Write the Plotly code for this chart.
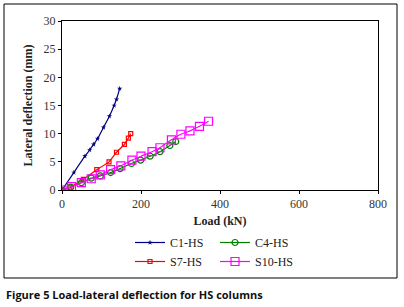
import plotly.graph_objects as go

c1_load = [0, 30, 58, 70, 80, 90, 105, 120, 132, 138, 146]
c1_defl = [0, 3.1, 6.0, 7.1, 8.1, 9.1, 11.1, 13.1, 15.0, 16.1, 18.0]

s7_load = [0, 20, 54, 88, 119, 138, 158, 168, 174]
s7_defl = [0, 0.5, 1.9, 3.6, 5.0, 6.7, 8.1, 9.2, 10.0]

c4_load = [0, 22, 49, 74, 97, 123, 147, 176, 199, 223, 248, 273, 288]
c4_defl = [0, 0.5, 1.3, 2.1, 2.5, 3.1, 3.8, 4.7, 5.3, 6.0, 6.8, 7.9, 8.6]

s10_load = [0, 24, 49, 74, 97, 123, 149, 177, 200, 228, 248, 277, 301, 324, 348, 371]
s10_defl = [0, 0.6, 1.3, 2.0, 2.7, 3.6, 4.3, 5.3, 6.0, 6.8, 7.5, 8.9, 9.9, 10.5, 11.3, 12.2]

x_ticks = [0, 200, 400, 600, 800]
y_ticks = [0, 5, 10, 15, 20, 25, 30]

W, H = 404, 307
L, R, T, B = 62, 378, 21, 190
pw, ph = R - L, B - T

def px(x):
    return (x - L) / pw

def py(y):
    return (B - y) / ph

fig = go.Figure()
fig.add_trace(go.Scatter(x=c1_load, y=c1_defl, name="C1-HS", mode="lines+markers",
                         line=dict(color="#000080", width=1.2, shape="spline", smoothing=0.4),
                         marker=dict(symbol="star", size=4, color="#000080"), legend="legend"))
fig.add_trace(go.Scatter(x=s7_load, y=s7_defl, name="S7-HS", mode="lines+markers",
                         line=dict(color="#FF0000", width=1.2, shape="spline", smoothing=0.4),
                         marker=dict(symbol="square-open", size=4, color="#FF0000", line=dict(width=1.2)), legend="legend"))
fig.add_trace(go.Scatter(x=c4_load, y=c4_defl, name="C4-HS", mode="lines+markers",
                         line=dict(color="#008000", width=1.2, shape="spline", smoothing=0.4),
                         marker=dict(symbol="circle-open", size=6, color="#008000", line=dict(width=1.2)), legend="legend2"))
fig.add_trace(go.Scatter(x=s10_load, y=s10_defl, name="S10-HS", mode="lines+markers",
                         line=dict(color="#FF00FF", width=1.2, shape="spline", smoothing=0.4),
                         marker=dict(symbol="square-open", size=8, color="#FF00FF", line=dict(width=1.2)), legend="legend2"))

serif = "Liberation Serif, DejaVu Serif, serif"
leg_common = dict(font=dict(family=serif, size=12, color="#222"), bgcolor="rgba(0,0,0,0)",
                  yanchor="top", xanchor="left", tracegroupgap=0, itemwidth=30)

fig.update_layout(
    width=W, height=H,
    margin=dict(l=L, r=W - R, t=T, b=H - B, autoexpand=False),
    paper_bgcolor="white", plot_bgcolor="white",
    showlegend=True,
    legend=dict(x=px(130), y=py(228), **leg_common),
    legend2=dict(x=px(215), y=py(228), **leg_common),
    xaxis=dict(range=[0, 800], tickvals=x_ticks, showgrid=False, zeroline=False,
               showline=True, linecolor="black", linewidth=1, mirror=True,
               ticks="outside", ticklen=3, tickcolor="black",
               tickfont=dict(family=serif, size=12, color="#333"),
               title=dict(text="<b>Load (kN)</b>", font=dict(family=serif, size=12, color="#222"), standoff=6)),
    yaxis=dict(range=[0, 30], tickvals=y_ticks, showgrid=False, zeroline=False,
               showline=True, linecolor="black", linewidth=1, mirror=True,
               ticks="outside", ticklen=3, tickcolor="black",
               tickfont=dict(family=serif, size=12, color="#333"),
               title=dict(text="<b>Lateral deflection (mm)</b>", font=dict(family=serif, size=12, color="#222"), standoff=8)),
    shapes=[dict(type="rect", xref="paper", yref="paper",
                 x0=px(4), x1=px(397), y0=py(278), y1=py(4),
                 line=dict(color="black", width=1), fillcolor="rgba(0,0,0,0)", layer="above")],
    annotations=[dict(text="<b>Figure 5 Load-lateral deflection for HS columns</b>",
                      xref="paper", yref="paper", x=px(4), y=py(294), xanchor="left", yanchor="middle",
                      showarrow=False, font=dict(family="Open Sans, Noto Sans, sans-serif", size=11, color="#111"))],
)

fig.write_html("out.html", config={"displayModeBar": False},
               post_script="document.body.style.margin='0';")
